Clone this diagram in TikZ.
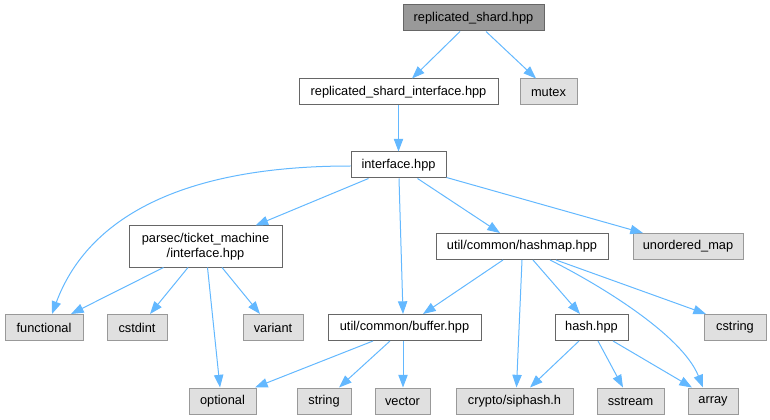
\documentclass[tikz,border=0pt]{standalone}
\usepackage{fontspec}
\setmainfont{Liberation Sans}
\usetikzlibrary{arrows.meta,calc}
\definecolor{edgeblue}{HTML}{63B8FF}
\definecolor{boxline}{HTML}{666666}
\definecolor{extline}{HTML}{999999}
\definecolor{extfill}{HTML}{E0E0E0}
\definecolor{rootfill}{HTML}{999999}
\tikzset{
  base/.style={rectangle, inner sep=0pt, line width=0.75pt, align=center,
    font=\fontsize{9.6}{11.25}\selectfont},
  filebox/.style={base, draw=boxline, fill=white},
  extbox/.style={base, draw=extline, fill=extfill},
  rootbox/.style={base, draw=boxline, fill=rootfill},
  wh/.style 2 args={minimum width=#1*0.75pt, minimum height=#2*0.75pt},
  edge/.style={draw=edgeblue, line width=0.75pt,
    -{Triangle[length=9.5pt,width=7pt]}, fill=none},
}
\begin{document}
\begin{tikzpicture}[x=0.75pt,y=-0.75pt]
\useasboundingbox (0,0) rectangle (770,420);
% nodes
\node[rootbox, wh={141}{26}] (root) at (473.5,18) {replicated\_shard.hpp};
\node[filebox, wh={199}{26}] (rsi) at (398.5,92) {replicated\_shard\_interface.hpp};
\node[extbox, wh={57}{26}] (mutex) at (548.5,92) {mutex};
\node[filebox, wh={95}{26}] (iface) at (398.5,165) {interface.hpp};
\node[filebox, wh={153}{41}] (parsec) at (205.5,246.5) {parsec/ticket\_machine\\/interface.hpp};
\node[filebox, wh={172}{26}] (hashmap) at (522,246.5) {util/common/hashmap.hpp};
\node[extbox, wh={110}{26}] (umap) at (688,246.5) {unordered\_map};
\node[extbox, wh={78}{26}] (functional) at (44,327.5) {functional};
\node[extbox, wh={60}{26}] (cstdint) at (137,327.5) {cstdint};
\node[extbox, wh={60}{26}] (variant) at (273,327.5) {variant};
\node[filebox, wh={153}{26}] (buffer) at (404.5,327.5) {util/common/buffer.hpp};
\node[filebox, wh={73}{26}] (hash) at (591.5,327.5) {hash.hpp};
\node[extbox, wh={62}{26}] (cstring) at (735,327.5) {cstring};
\node[extbox, wh={67}{26}] (optional) at (222.5,401) {optional};
\node[extbox, wh={54}{26}] (string) at (324,401) {string};
\node[extbox, wh={55}{26}] (vector) at (402.5,401) {vector};
\node[extbox, wh={117}{26}] (crypto) at (514.5,401) {crypto/siphash.h};
\node[extbox, wh={67}{26}] (sstream) at (630.5,401) {sstream};
\node[extbox, wh={50}{26}] (array) at (713,401) {array};
% edges
\draw[edge] ($(root.south)+(-13.5,0)$) -- ($(rsi.north)+(13.5,0)$);
\draw[edge] ($(root.south)+(12.5,0)$) -- ($(mutex.north)+(-12.5,0)$);
\draw[edge] (rsi.south) -- (iface.north);
\draw[edge] ($(iface.west)+(0,1)$) .. controls (170,166) and (85,225) .. ($(functional.north)+(8,0)$);
\draw[edge] ($(iface.south)+(-30,0)$) -- ($(parsec.north)+(50,0)$);
\draw[edge] ($(iface.south)+(0.5,0)$) -- ($(buffer.north)+(-1.5,0)$);
\draw[edge] ($(iface.south)+(19,0)$) -- ($(hashmap.north)+(-22,0)$);
\draw[edge] ($(iface.south east)+(0,-1)$) -- ($(umap.north)+(-45,0)$);
\draw[edge] ($(parsec.south)+(-42,0)$) -- ($(functional.north)+(27,0)$);
\draw[edge] ($(parsec.south)+(-17.5,0)$) -- ($(cstdint.north)+(13,0)$);
\draw[edge] ($(parsec.south)+(2,0)$) -- ($(optional.north)+(-2.5,0)$);
\draw[edge] ($(parsec.south)+(16.5,0)$) -- ($(variant.north)+(-13,0)$);
\draw[edge] ($(hashmap.south)+(-19,0)$) -- ($(buffer.north)+(18.5,0)$);
\draw[edge] ($(hashmap.south)+(0,0)$) -- ($(crypto.north)+(2,0)$);
\draw[edge] ($(hashmap.south)+(11,0)$) -- ($(hash.north)+(-11.5,0)$);
\draw[edge] ($(hashmap.south)+(28,0)$) .. controls (600,285) and (682,335) .. ($(array.north)+(-10,0)$);
\draw[edge] ($(hashmap.south)+(34,0)$) -- ($(cstring.north)+(-29,0)$);
\draw[edge] ($(buffer.south)+(-31.5,0)$) -- ($(optional.north)+(32.5,0)$);
\draw[edge] ($(buffer.south)+(-14.5,0)$) -- ($(string.north)+(15,0)$);
\draw[edge] ($(buffer.south)+(-1.5,0)$) -- ($(vector.north)+(0.5,0)$);
\draw[edge] ($(hash.south)+(-12.5,0)$) -- ($(crypto.north)+(15.5,0)$);
\draw[edge] ($(hash.south)+(6.5,0)$) -- ($(sstream.north)+(-7.5,0)$);
\draw[edge] ($(hash.south)+(21.5,0)$) -- ($(array.north)+(-21,0)$);
\end{tikzpicture}
\end{document}
